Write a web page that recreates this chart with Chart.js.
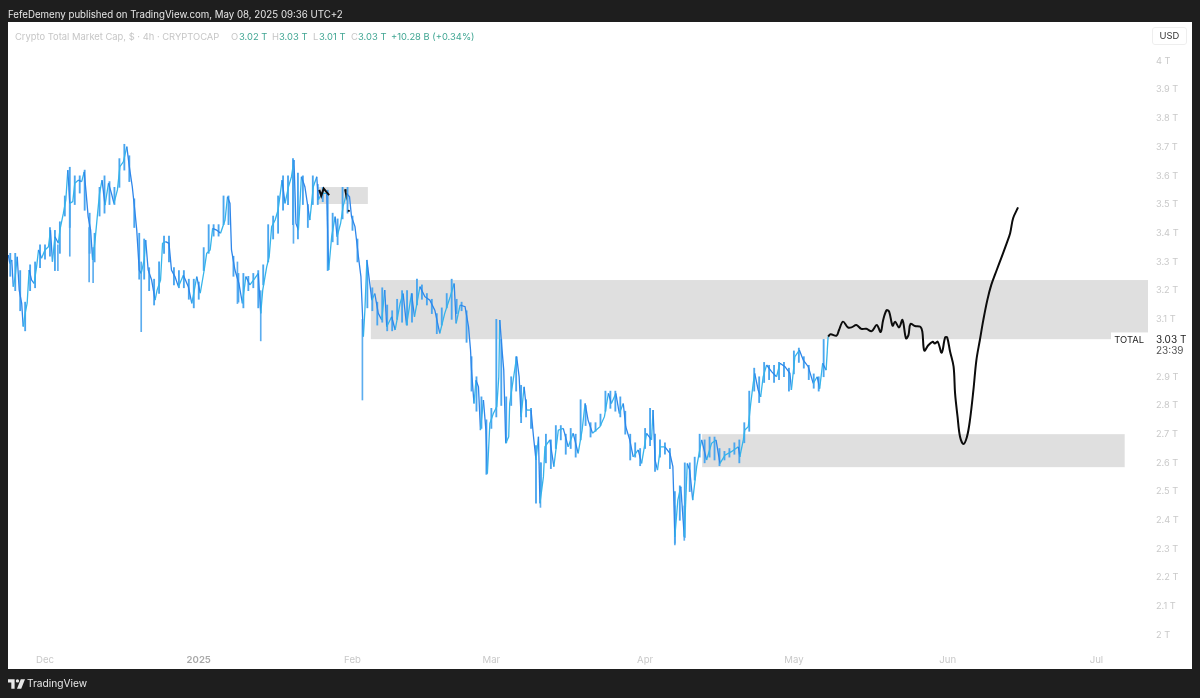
<!DOCTYPE html>
<html>
<head>
<meta charset="utf-8">
<title>Crypto Total Market Cap</title>
<script src="https://cdn.jsdelivr.net/npm/chart.js@4/dist/chart.umd.min.js"></script>
<style>
    html, body { margin: 0; padding: 0; background: #1e1e1e; width: 1200px; height: 698px; overflow: hidden; font-family: Inter, sans-serif; }
    #panel { position: absolute; left: 8px; top: 22px; width: 1184px; height: 647px; background: #fff; }
    #grafico { position: absolute; left: 0; top: 0; }
    .texto { position: absolute; white-space: nowrap; }
    #publicado { left: 8px; top: 9px; font-size: 9.7px; color: #e6e6e6; }
    #leyenda { top: 31px; font-size: 9.4px; color: #c6c6c6; }
    #leyenda span { position: absolute; top: 0; white-space: nowrap; }
    #leyenda .v { color: #3fa592; }
    #usd { left: 1152px; top: 27px; width: 33px; height: 16px; line-height: 16px; border: 1px solid #eee; border-radius: 3px; text-align: center; font-size: 9.4px; color: #333; }
    #marca { left: 27px; top: 677px; font-size: 10.2px; color: #e8e8e8; }
    #logo { position: absolute; left: 8px; top: 679px; }
</style>
</head>
<body>
<div id="panel"></div>
<canvas id="grafico" width="1200" height="698"></canvas>
<div class="texto" id="publicado">FefeDemeny published on TradingView.com, May 08, 2025 09:36 UTC+2</div>
<div class="texto" id="leyenda">
    <span style="left:15px">Crypto Total Market Cap, $ · 4h · CRYPTOCAP</span>
    <span style="left:231px">O</span><span class="v" style="left:239px">3.02 T</span>
    <span style="left:272px">H</span><span class="v" style="left:279px">3.03 T</span>
    <span style="left:313px">L</span><span class="v" style="left:319px">3.01 T</span>
    <span style="left:351px">C</span><span class="v" style="left:358px">3.03 T</span>
    <span class="v" style="left:391px">+10.28 B (+0.34%)</span>
</div>
<div class="texto" id="usd">USD</div>
<svg id="logo" width="17" height="10" viewBox="0 0 36 20"><path fill="#e8e8e8" d="M0 0h14v20H7V7H0zM20 0a3.5 3.5 0 1 1 0 7 3.5 3.5 0 0 1 0-7zM27 0h9l-8 20h-9z"/></svg>
<div class="texto" id="marca">TradingView</div>

<script>
// Dias desde el 1 de diciembre de 2024
const mesesDias = [0, 31, 62, 90, 121, 151, 182, 212];
const mesesNombres = ['Dec', '2025', 'Feb', 'Mar', 'Apr', 'May', 'Jun', 'Jul'];

const preciosTicks = [4, 3.9, 3.8, 3.7, 3.6, 3.5, 3.4, 3.3, 3.2, 3.1, 3.0, 2.9, 2.8, 2.7, 2.6, 2.5, 2.4, 2.3, 2.2, 2.1, 2];
const preciosNombres = ['4 T', '3.9 T', '3.8 T', '3.7 T', '3.6 T', '3.5 T', '3.4 T', '3.3 T', '3.2 T', '3.1 T', '', '2.9 T', '2.8 T', '2.7 T', '2.6 T', '2.5 T', '2.4 T', '2.3 T', '2.2 T', '2.1 T', '2 T'];

// Precio (billones USD)
const precioDias = [
    -7.4, -7.1, -6.7, -6.4, -6.0, -5.6, -5.2, -4.7, -4.4, -4.0, -3.6, -3.2, -2.7, -2.2, -1.7, -1.3, -0.7, 0, 0.7, 1.1,
    1.5, 2.0, 2.7, 3.0, 3.7, 4.2, 4.6, 5.0, 5.6, 6.0, 6.7, 7.4, 7.9, 8.3, 8.7, 9.2, 9.6, 10.1, 10.6, 11.0,
    11.5, 12.1, 12.8, 13.4, 13.9, 14.6, 15.1, 15.8, 16.5, 17.0, 17.6, 18.1, 18.5, 19.0, 19.4, 20.0, 20.3, 20.8, 21.5, 22.2,
    22.6, 23.3, 23.7, 24.3, 25.0, 25.5, 26.2, 26.9, 27.9, 28.9, 29.6, 30.0, 30.6, 31.3, 32.1, 32.6, 33.3, 33.8, 34.6, 35.4,
    36.3, 36.8, 37.3, 37.6, 38.3, 39.1, 39.8, 40.5, 41.3, 42.3, 43.0, 43.5, 43.9, 44.7, 45.2, 45.7, 46.4, 47.0, 47.8, 48.4,
    49.1, 49.7, 50.2, 50.6, 51.1, 51.7, 52.4, 53.4, 54.1, 54.8, 55.1, 55.8, 56.8, 57.2, 57.8, 58.5, 58.9, 59.6, 60.1, 60.8,
    61.4, 61.8, 62.5, 63.2, 63.7, 64.2, 64.5, 64.9, 65.9, 66.5, 67.2, 67.9, 68.5, 68.9, 69.9, 70.6, 71.6, 72.2, 72.9, 73.9,
    74.5, 75.6, 76.6, 77.6, 78.6, 79.6, 80.6, 81.7, 82.5, 82.9, 83.7, 84.7, 85.4, 85.8, 86.0, 86.5, 86.9, 87.4, 87.8, 88.4,
    88.9, 89.2, 89.7, 90.4, 91.1, 91.5, 91.7, 92.1, 92.5, 92.9, 93.5, 93.7, 94.4, 95.1, 95.6, 96.0, 96.6, 97.1, 98.0, 98.5,
    99.0, 99.5, 99.8, 100.5, 100.8, 101.8, 102.6, 103.5, 104.5, 105.5, 106.5, 107.5, 108.3, 108.9, 109.5, 110.4, 111.9, 112.8, 113.6, 114.2,
    115.1, 115.8, 116.6, 117.1, 117.9, 118.6, 119.6, 120.3, 121.3, 122.3, 122.6, 123.0, 123.5, 124.1, 125.0, 126.0, 126.6, 127.0, 127.6, 128.2,
    128.9, 129.5, 130.0, 130.6, 131.4, 132.4, 133.4, 134.4, 135.3, 136.1, 137.1, 138.4, 139.8, 140.1, 140.8, 141.1, 141.8, 142.3, 142.8, 143.1,
    143.8, 144.3, 144.8, 145.5, 146.5, 147.5, 148.2, 149.2, 150.2, 150.5, 151.2, 152.1, 152.9, 153.9, 154.9, 155.7, 156.2, 156.8, 157.5, 157.9
];
const precioValores = [
    3.324, 3.295, 3.307, 3.214, 3.249, 3.318, 3.202, 3.156, 3.075, 3.121, 3.156, 3.272, 3.237, 3.225, 3.283, 3.342, 3.313, 3.342, 3.353, 3.411,
    3.301, 3.388, 3.365, 3.411, 3.469, 3.516, 3.620, 3.504, 3.510, 3.574, 3.585, 3.580, 3.614, 3.539, 3.458, 3.411, 3.307, 3.376, 3.469, 3.539,
    3.585, 3.498, 3.574, 3.539, 3.504, 3.551, 3.632, 3.649, 3.702, 3.632, 3.562, 3.481, 3.411, 3.272, 3.260, 3.307, 3.376, 3.272, 3.237, 3.167,
    3.202, 3.237, 3.365, 3.371, 3.365, 3.272, 3.249, 3.214, 3.254, 3.214, 3.156, 3.191, 3.249, 3.191, 3.272, 3.330, 3.342, 3.417, 3.411, 3.400,
    3.446, 3.527, 3.504, 3.342, 3.272, 3.225, 3.156, 3.249, 3.220, 3.243, 3.260, 3.121, 3.202, 3.283, 3.318, 3.423, 3.446, 3.481, 3.585, 3.504,
    3.562, 3.597, 3.655, 3.434, 3.411, 3.597, 3.562, 3.446, 3.562, 3.597, 3.516, 3.539, 3.539, 3.272, 3.388, 3.458, 3.388, 3.434, 3.493, 3.539,
    3.527, 3.458, 3.423, 3.318, 3.249, 3.040, 3.132, 3.307, 3.167, 3.190, 3.121, 3.098, 3.202, 3.074, 3.109, 3.063, 3.156, 3.190, 3.080, 3.190,
    3.109, 3.214, 3.179, 3.167, 3.132, 3.051, 3.121, 3.179, 3.225, 3.086, 3.150, 3.144, 3.074, 2.993, 2.923, 2.807, 2.888, 2.865, 2.714, 2.819,
    2.714, 2.563, 2.738, 2.772, 2.796, 2.900, 3.098, 3.005, 2.923, 2.668, 2.691, 2.807, 2.888, 2.970, 2.900, 2.761, 2.865, 2.784, 2.784, 2.691,
    2.610, 2.691, 2.459, 2.552, 2.656, 2.680, 2.587, 2.714, 2.720, 2.656, 2.703, 2.633, 2.714, 2.807, 2.749, 2.703, 2.726, 2.761, 2.842, 2.807,
    2.842, 2.772, 2.807, 2.726, 2.680, 2.621, 2.645, 2.598, 2.703, 2.680, 2.784, 2.610, 2.575, 2.656, 2.656, 2.633, 2.587, 2.343, 2.470, 2.517,
    2.343, 2.598, 2.575, 2.470, 2.587, 2.680, 2.610, 2.668, 2.680, 2.598, 2.627, 2.639, 2.656, 2.621, 2.680, 2.714, 2.726, 2.807, 2.877, 2.912,
    2.854, 2.830, 2.900, 2.941, 2.918, 2.900, 2.947, 2.935, 2.912, 2.854, 2.970, 2.993, 2.958, 2.935, 2.877, 2.900, 2.859, 2.947, 2.923, 3.040
];

// Rango diario (minimo y maximo)
const rangoDias = [
    -7, -6, -5, -4, -3, -2, -1, 0, 1, 2, 3, 4, 5, 6, 7, 8, 9, 10, 11, 12,
    13, 14, 15, 16, 17, 18, 19, 20, 21, 22, 23, 24, 25, 26, 27, 28, 29, 30, 31, 32,
    33, 34, 35, 36, 37, 38, 39, 40, 41, 42, 43, 44, 45, 46, 47, 48, 49, 50, 51, 52,
    53, 54, 55, 56, 57, 58, 59, 60, 61, 62, 63, 65, 66, 67, 68, 69, 70, 71, 72, 73,
    74, 75, 76, 77, 78, 79, 80, 81, 82, 83, 84, 85, 86, 87, 88, 89, 90, 91, 92, 93,
    94, 95, 96, 97, 98, 99, 100, 101, 102, 103, 104, 105, 106, 107, 108, 109, 110, 111, 112, 113,
    114, 115, 116, 117, 118, 119, 120, 121, 122, 123, 124, 125, 126, 127, 128, 129, 130, 131, 132, 133,
    134, 135, 136, 137, 138, 139, 140, 141, 142, 143, 144, 145, 146, 147, 148, 149, 150, 151, 152, 153,
    154, 155, 156, 157
];
const rangoBajos = [
    3.25, 3.20, 3.13, 3.06, 3.20, 3.21, 3.28, 3.31, 3.32, 3.27, 3.33, 3.46, 3.42, 3.50, 3.54, 3.48, 3.33, 3.30, 3.46, 3.47,
    3.50, 3.50, 3.56, 3.62, 3.58, 3.42, 3.24, 3.24, 3.20, 3.15, 3.19, 3.33, 3.30, 3.22, 3.21, 3.21, 3.17, 3.14, 3.17, 3.27,
    3.33, 3.39, 3.39, 3.43, 3.43, 3.25, 3.16, 3.14, 3.20, 3.21, 3.14, 3.22, 3.30, 3.38, 3.40, 3.48, 3.50, 3.43, 3.38, 3.50,
    3.42, 3.50, 3.50, 3.51, 3.27, 3.37, 3.36, 3.45, 3.47, 3.41, 3.30, 3.14, 3.13, 3.08, 3.09, 3.06, 3.06, 3.10, 3.09, 3.08,
    3.09, 3.15, 3.17, 3.15, 3.12, 3.05, 3.08, 3.14, 3.10, 3.12, 3.13, 3.02, 2.85, 2.78, 2.72, 2.56, 2.72, 2.76, 2.80, 2.67,
    2.80, 2.85, 2.74, 2.76, 2.72, 2.46, 2.50, 2.60, 2.58, 2.65, 2.68, 2.63, 2.65, 2.62, 2.68, 2.73, 2.69, 2.71, 2.73, 2.78,
    2.79, 2.78, 2.76, 2.70, 2.61, 2.62, 2.59, 2.65, 2.66, 2.57, 2.62, 2.63, 2.58, 2.32, 2.40, 2.34, 2.50, 2.54, 2.62, 2.60,
    2.62, 2.61, 2.59, 2.61, 2.62, 2.63, 2.60, 2.67, 2.71, 2.85, 2.81, 2.88, 2.89, 2.88, 2.89, 2.90, 2.85, 2.91, 2.95, 2.93,
    2.89, 2.86, 2.85, 2.90
];
const rangoAltos = [
    3.33, 3.33, 3.27, 3.16, 3.29, 3.30, 3.36, 3.36, 3.42, 3.41, 3.44, 3.53, 3.63, 3.60, 3.60, 3.62, 3.47, 3.40, 3.56, 3.60,
    3.58, 3.56, 3.66, 3.71, 3.67, 3.52, 3.40, 3.38, 3.28, 3.24, 3.30, 3.39, 3.39, 3.28, 3.27, 3.27, 3.24, 3.24, 3.23, 3.35,
    3.43, 3.43, 3.43, 3.53, 3.53, 3.32, 3.26, 3.26, 3.25, 3.26, 3.27, 3.29, 3.43, 3.46, 3.53, 3.60, 3.60, 3.66, 3.61, 3.60,
    3.50, 3.60, 3.57, 3.56, 3.55, 3.47, 3.45, 3.56, 3.56, 3.46, 3.38, 3.28, 3.21, 3.16, 3.21, 3.15, 3.13, 3.17, 3.20, 3.20,
    3.19, 3.24, 3.22, 3.19, 3.17, 3.12, 3.14, 3.19, 3.24, 3.17, 3.16, 3.13, 2.97, 2.90, 2.83, 2.75, 2.79, 3.10, 3.03, 2.83,
    2.90, 2.97, 2.87, 2.82, 2.79, 2.66, 2.60, 2.70, 2.68, 2.73, 2.73, 2.70, 2.72, 2.70, 2.82, 2.80, 2.74, 2.74, 2.77, 2.85,
    2.85, 2.85, 2.83, 2.78, 2.70, 2.67, 2.65, 2.72, 2.79, 2.70, 2.68, 2.67, 2.65, 2.50, 2.52, 2.60, 2.60, 2.62, 2.70, 2.68,
    2.69, 2.69, 2.65, 2.64, 2.65, 2.67, 2.68, 2.74, 2.85, 2.93, 2.90, 2.95, 2.94, 2.94, 2.95, 2.95, 2.93, 2.99, 3.00, 2.97,
    2.94, 2.91, 2.90, 3.03
];

// Mechas largas
const mechaDias = [64.0, 19.4, 5.0, 8.9, 9.7, 2.6, 43.5, 50.1, 38.8, 99.9, 127.0, 128.9];
const mechaBajos = [2.819, 3.057, 3.320, 3.230, 3.228, 3.270, 3.025, 3.365, 3.155, 2.445, 2.314, 2.330];
const mechaAltos = [3.100, 3.300, 3.500, 3.420, 3.350, 3.360, 3.200, 3.600, 3.300, 2.600, 2.450, 2.450];

// Proyeccion dibujada a mano
const proyeccionDias = [
    157.9, 158.4, 159.6, 160.1, 160.9, 161.9, 162.6, 163.6, 164.6, 165.6, 166.7, 167.7, 168.5, 169.0, 169.7, 170.2, 170.9, 171.4, 172.2, 172.9,
    173.6, 174.1, 174.5, 175.4, 176.5, 176.9, 177.3, 178.1, 179.0, 179.4, 180.0, 180.8, 181.5, 181.9, 182.5, 183.2, 183.5, 184.0, 184.5, 185.2,
    185.9, 186.5, 187.2, 187.8, 188.5, 189.2, 190.0, 190.8, 191.9, 192.9, 193.9, 194.6, 195.2, 196.2
];
const proyeccionValores = [
    3.040, 3.048, 3.043, 3.063, 3.092, 3.072, 3.072, 3.080, 3.067, 3.067, 3.059, 3.080, 3.056, 3.098, 3.132, 3.127, 3.078, 3.092, 3.072, 3.098,
    3.034, 3.045, 3.084, 3.077, 3.074, 3.057, 2.991, 3.010, 3.022, 3.016, 3.022, 2.984, 3.037, 3.037, 2.987, 2.935, 2.842, 2.761, 2.691, 2.666,
    2.691, 2.749, 2.854, 2.958, 3.028, 3.098, 3.167, 3.220, 3.272, 3.318, 3.365, 3.400, 3.452, 3.490
];

// Trazos negros sueltos sobre la caja pequena
const trazoDias = [55.3, 55.7, 56.2, 56.7, 57.3, null, 60.5, 60.6, null, 61.2, 61.3];
const trazoValores = [3.551, 3.530, 3.556, 3.545, 3.533, null, 3.553, 3.545, null, 3.475, 3.481];

// Zonas grises
const zonaInicios = [55.0, 65.7, 132.5];
const zonaFines = [65.1, 222.4, 217.7];
const zonaBajos = [3.502, 3.031, 2.585];
const zonaAltos = [3.561, 3.237, 2.700];

const ultimoPrecio = 3.03;

const aPuntos = (xs, ys) => xs.map((x, i) => ({ x: x, y: ys[i] }));
const aBarras = (xs, bajos, altos) => xs.map((x, i) => ({ x: x, y: [bajos[i], altos[i]] }));
const esAnio = c => c.tick && c.tick.value === 31;

const zonasPlugin = {
    id: 'zonas',
    beforeDatasetsDraw(chart) {
        const { ctx, scales: { x, y } } = chart;
        ctx.save();
        ctx.fillStyle = '#dfdfdf';
        zonaInicios.forEach((ini, i) => {
            const px0 = x.getPixelForValue(ini);
            const px1 = x.getPixelForValue(zonaFines[i]);
            const py0 = y.getPixelForValue(zonaAltos[i]);
            const py1 = y.getPixelForValue(zonaBajos[i]);
            ctx.fillRect(px0, py0, px1 - px0, py1 - py0);
        });
        ctx.restore();
    }
};

// Etiqueta del ultimo precio sobre el eje
const etiquetaPlugin = {
    id: 'etiqueta',
    afterDraw(chart) {
        const { ctx, scales: { y }, chartArea } = chart;
        const py = y.getPixelForValue(ultimoPrecio);
        ctx.save();
        ctx.fillStyle = '#fff';
        ctx.fillRect(chartArea.right - 37, py - 7, 37, 14);
        ctx.textBaseline = 'middle';
        ctx.font = '9.4px Inter, sans-serif';
        ctx.fillStyle = '#222';
        ctx.textAlign = 'right';
        ctx.fillText('TOTAL', chartArea.right - 4, py + 0.5);
        ctx.textAlign = 'left';
        ctx.font = '10px Inter, sans-serif';
        ctx.fillText('3.03 T', chartArea.right + 8, py + 0.5);
        ctx.fillStyle = '#555';
        ctx.fillText('23:39', chartArea.right + 8, py + 12);
        ctx.restore();
    }
};

new Chart(document.getElementById('grafico').getContext('2d'), {
    data: {
        datasets: [
            {
                type: 'line',
                data: aPuntos(proyeccionDias, proyeccionValores),
                borderColor: '#0c0c0c',
                borderWidth: 2,
                pointRadius: 0,
                tension: 0.35,
                order: 0
            },
            {
                type: 'line',
                data: aPuntos(trazoDias, trazoValores),
                borderColor: '#0c0c0c',
                borderWidth: 2,
                pointRadius: 0,
                spanGaps: false,
                order: 1
            },
            {
                type: 'line',
                data: aPuntos(precioDias, precioValores),
                borderColor: '#2a96ee',
                borderWidth: 1.3,
                pointRadius: 0,
                tension: 0,
                segment: {
                    // subida en cian, bajada en azul
                    borderColor: c => c.p1.parsed.y >= c.p0.parsed.y ? '#35b4ea' : '#2e86ea'
                },
                order: 2
            },
            {
                type: 'bar',
                data: aBarras(rangoDias, rangoBajos, rangoAltos),
                backgroundColor: '#4aa6ef',
                barThickness: 1.2,
                order: 3
            },
            {
                type: 'bar',
                data: aBarras(mechaDias, mechaBajos, mechaAltos),
                backgroundColor: '#5cadef',
                barThickness: 1,
                order: 4
            }
        ]
    },
    plugins: [zonasPlugin, etiquetaPlugin],
    options: {
        responsive: false,
        animation: false,
        layout: { padding: { left: 8, top: 22, right: 8, bottom: 29 } },
        plugins: { legend: { display: false }, tooltip: { enabled: false } },
        datasets: { bar: { grouped: false } },
        scales: {
            x: {
                type: 'linear',
                offset: false,
                min: -7.46,
                max: 222.4,
                grid: { display: false, drawTicks: false },
                border: { display: false },
                afterBuildTicks: scale => { scale.ticks = mesesDias.map(v => ({ value: v })); },
                afterFit: scale => { scale.height = 21; },
                ticks: {
                    autoSkip: false,
                    maxRotation: 0,
                    padding: 6,
                    color: c => esAnio(c) ? '#a9a9a9' : '#c9c9c9',
                    font: c => ({ family: 'Inter, sans-serif', size: 9.6, weight: esAnio(c) ? '600' : '400' }),
                    callback: v => mesesNombres[mesesDias.indexOf(v)]
                }
            },
            y: {
                type: 'linear',
                position: 'right',
                min: 1.955,
                max: 4.136,
                grid: { display: false, drawTicks: false },
                border: { display: false },
                afterBuildTicks: scale => { scale.ticks = preciosTicks.map(v => ({ value: v })); },
                afterFit: scale => { scale.width = 44; },
                ticks: {
                    autoSkip: false,
                    padding: 8,
                    color: '#c9c9c9',
                    font: { family: 'Inter, sans-serif', size: 9.2 },
                    callback: v => preciosNombres[preciosTicks.indexOf(v)]
                }
            }
        }
    }
});
</script>
</body>
</html>
